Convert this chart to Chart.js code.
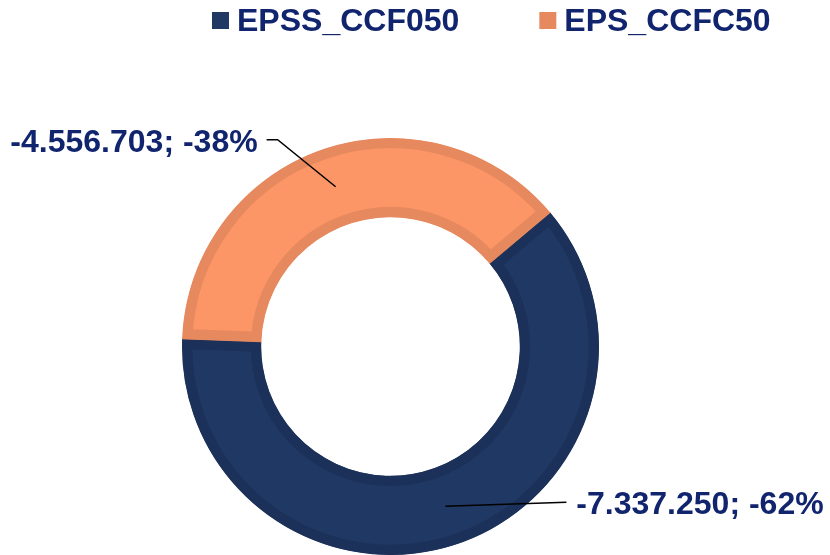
<!DOCTYPE html>
<html>
<head>
<meta charset="utf-8">
<script src="https://cdn.jsdelivr.net/npm/chart.js@4.4.0/dist/chart.umd.min.js"></script>
<style>
  html, body { margin: 0; padding: 0; background: #ffffff; overflow: hidden; }
  #wrap { width: 830px; height: 555px; position: relative; }
</style>
</head>
<body>
<div id="wrap"><canvas id="myChart"></canvas></div>
<script>
// series
var labels = ['EPSS_CCF050', 'EPS_CCFC50'];
var values = [-7337250, -4556703];
var fillColors = ['#203864', '#FC9666'];
var edgeColors = ['#1C3159', '#E6895E'];

var textColor = '#11246E';
var fontFamily = '"Liberation Sans", Arial, sans-serif';

function fmtNum(v) {
    var s = Math.abs(v).toString().replace(/\B(?=(\d{3})+(?!\d))/g, '.');
    return (v < 0 ? '-' : '') + s;
}

var total = 0;
for (var i = 0; i < values.length; i++) total += values[i];

// where the labels sit, relative to the slice centroid
var labelSpots = [
    { elbow: null, end: [121, -4], align: 'left' },
    { elbow: [-58, -47], end: [-69, -47], align: 'right' }
];

var labelPlugin = {
    id: 'sliceLabels',
    afterDatasetsDraw: function (chart) {
        var ctx = chart.ctx;
        var meta = chart.getDatasetMeta(0);
        ctx.save();
        ctx.font = 'bold 32px ' + fontFamily;
        ctx.textBaseline = 'alphabetic';
        for (var i = 0; i < meta.data.length; i++) {
            var arc = meta.data[i];
            var c = arc.getCenterPoint();
            var spot = labelSpots[i];
            ctx.beginPath();
            ctx.strokeStyle = '#000000';
            ctx.lineWidth = 1.5;
            ctx.moveTo(c.x, c.y);
            if (spot.elbow) ctx.lineTo(c.x + spot.elbow[0], c.y + spot.elbow[1]);
            var ex = c.x + spot.end[0], ey = c.y + spot.end[1];
            ctx.lineTo(ex, ey);
            ctx.stroke();
            var pct = Math.round(values[i] / Math.abs(total) * 100);
            var txt = fmtNum(values[i]) + '; ' + pct + '%';
            ctx.fillStyle = textColor;
            if (spot.align == 'left') {
                ctx.textAlign = 'left';
                ctx.fillText(txt, ex + 10, ey + 12);
            } else {
                ctx.textAlign = 'right';
                ctx.fillText(txt, ex - 9, ey + 12);
            }
        }
        ctx.restore();
    }
};

var legendPlugin = {
    id: 'topLegend',
    afterDraw: function (chart) {
        var ctx = chart.ctx;
        ctx.save();
        ctx.font = 'bold 32px ' + fontFamily;
        ctx.textBaseline = 'alphabetic';
        ctx.textAlign = 'left';
        var x = 212;
        for (var i = 0; i < labels.length; i++) {
            ctx.fillStyle = i == 0 ? fillColors[i] : edgeColors[i];
            ctx.fillRect(x, 12, 17, 17);
            ctx.fillStyle = textColor;
            ctx.fillText(labels[i], x + 25, 31);
            x += 25 + ctx.measureText(labels[i]).width + 80;
        }
        ctx.restore();
    }
};

var ctx = document.getElementById('myChart').getContext('2d');
var myChart = new Chart(ctx, {
    type: 'doughnut',
    data: {
        labels: labels,
        datasets: [{
            data: values.map(function (v) { return Math.abs(v); }),
            backgroundColor: fillColors,
            borderColor: edgeColors,
            borderWidth: 10,
            borderAlign: 'inner'
        }]
    },
    options: {
        responsive: true,
        maintainAspectRatio: false,
        animation: false,
        rotation: 50,
        cutout: '62%',
        layout: { padding: { top: 138, bottom: -1, left: 0, right: 49 } },
        plugins: {
            legend: { display: false },
            tooltip: { enabled: false }
        }
    },
    plugins: [labelPlugin, legendPlugin]
});
</script>
</body>
</html>
